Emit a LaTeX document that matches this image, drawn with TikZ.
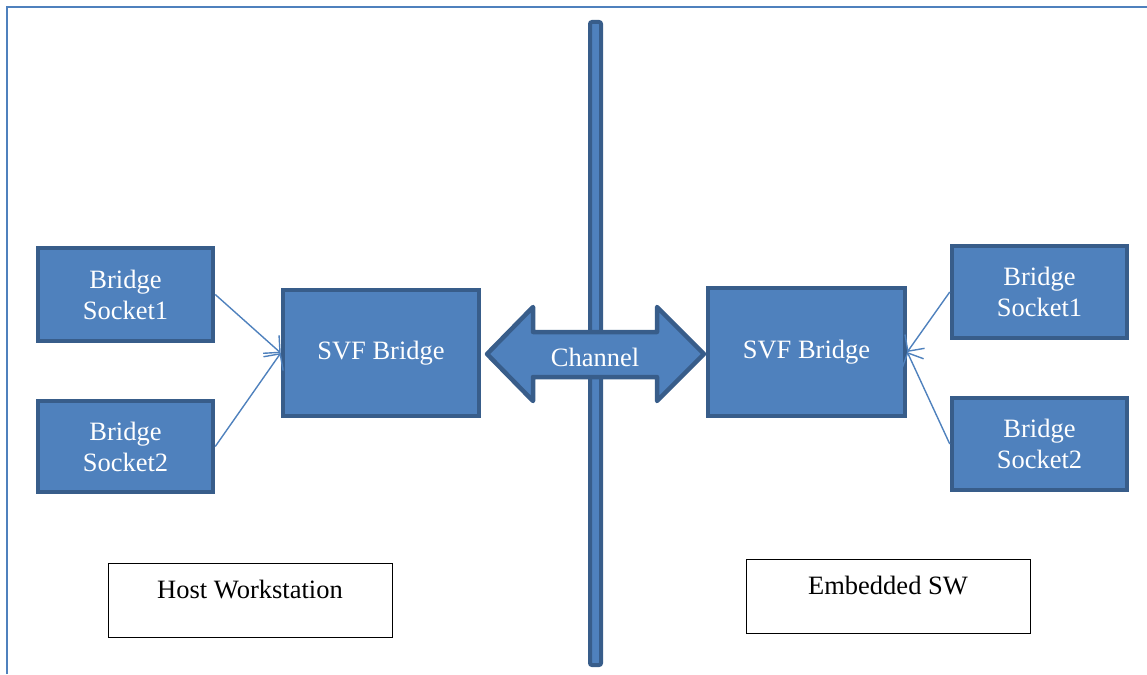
\documentclass[tikz,border=0pt]{standalone}
\usepackage{fontspec}
\setmainfont{Liberation Serif}
\usetikzlibrary{arrows.meta}
\definecolor{bfill}{HTML}{4F81BD}
\definecolor{bline}{HTML}{385D8A}
\tikzset{
  bluebox/.style={draw=bline, fill=bfill, line width=4.5pt, text=white, align=center,
    font=\fontsize{26.5}{31}\selectfont, inner sep=0pt},
  labelbox/.style={draw=black, line width=0.8pt, fill=white, inner xsep=0pt, inner ysep=0pt,
    font=\fontsize{26.5}{31}\selectfont, minimum width=284pt, text height=35.3pt, text depth=38.7pt},
  conn/.style={draw=bfill, line width=1.4pt, -{Straight Barb[length=12pt,width=24pt,line width=1.4pt]}},
  framel/.style={draw=bfill, line width=2.5pt}
}
\begin{document}
\begin{tikzpicture}[x=1pt,y=-1pt]
\useasboundingbox (0,0) rectangle (1147,674);
% frame
\draw[framel] (7,674) -- (7,7) -- (1147,7);
% vertical bar
\draw[draw=bline, fill=bfill, line width=4pt, rounded corners=2pt] (590,22) rectangle (601,665);
% channel double arrow
\draw[draw=bline, fill=bfill, line width=4.5pt, line join=round]
  (487,354) -- (533,307) -- (533,332) -- (657,332) -- (657,307) -- (704,354)
  -- (657,401) -- (657,377) -- (533,377) -- (533,401) -- cycle;
\node[text=white, font=\fontsize{26.5}{31}\selectfont] (chan) at (595,357) {Channel};
% left side
\node[bluebox, minimum width=175pt, minimum height=93pt] (ls1) at (125.5,294.5) {Bridge\\Socket1};
\node[bluebox, minimum width=175pt, minimum height=91pt] (ls2) at (125.5,446.5) {Bridge\\Socket2};
\node[bluebox, minimum width=196pt, minimum height=126pt] (lsvf) at (381,353) {SVF Bridge};
% right side
\node[bluebox, minimum width=197pt, minimum height=128pt] (rsvf) at (806.5,352) {SVF Bridge};
\node[bluebox, minimum width=175pt, minimum height=92pt] (rs1) at (1039.5,292) {Bridge\\Socket1};
\node[bluebox, minimum width=175pt, minimum height=92pt] (rs2) at (1039.5,444) {Bridge\\Socket2};
% connectors
\draw[conn] (ls1.east) -- (lsvf.west);
\draw[conn] (ls2.east) -- (lsvf.west);
\draw[conn] (rs1.west) -- (rsvf.east);
\draw[conn] (rs2.west) -- (rsvf.east);
% label boxes
\node[labelbox] (host) at (250,600) {Host Workstation};
\node[labelbox] (emb) at (888,596) {Embedded SW};
\end{tikzpicture}
\end{document}
